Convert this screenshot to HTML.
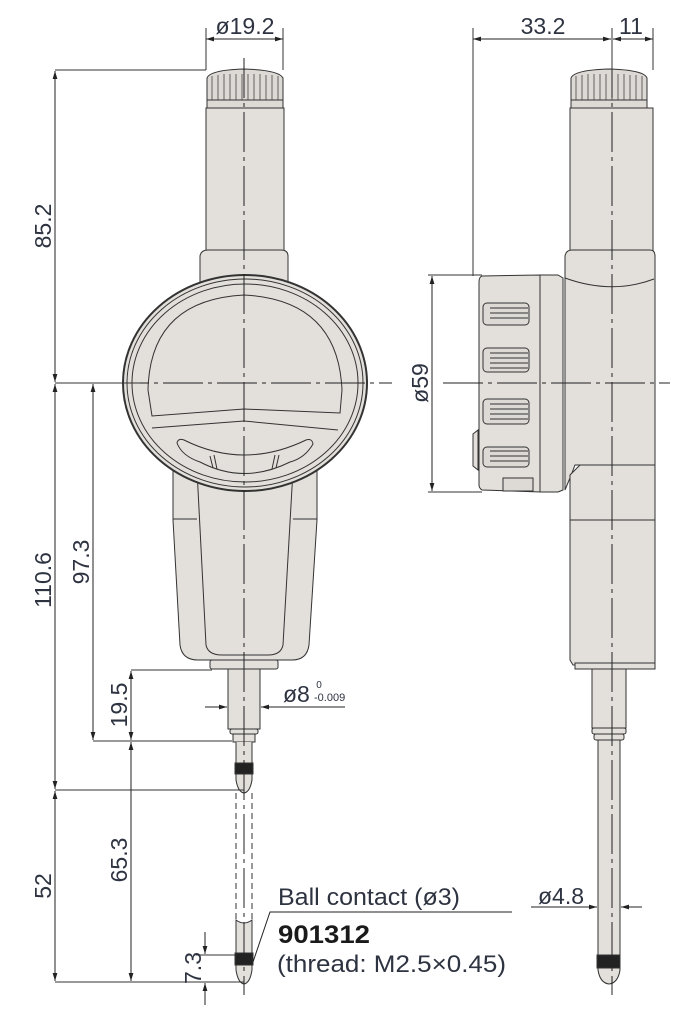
<!DOCTYPE html>
<html><head><meta charset="utf-8"><style>
html,body{margin:0;padding:0;background:#fff}
svg{display:block}
text{font-family:"Liberation Sans",sans-serif;fill:#2d3340}
</style></head><body>
<svg width="689" height="1024" viewBox="0 0 689 1024" xmlns="http://www.w3.org/2000/svg">
<defs>
<marker id="a" viewBox="0 0 10 6" refX="10" refY="3" markerWidth="8" markerHeight="5" orient="auto-start-reverse"><path d="M0,0L10,3L0,6z" fill="#222"/></marker>
</defs>
<g stroke="#333" stroke-width="1" fill="#e3dfdb">
<rect x="206" y="108" width="78" height="145"/>
<path d="M207,108 L207,78 Q210,70 244,69 Q279,70 283,78 L283,108 Z" fill="#ddd9d5"/>
<g stroke="#444" stroke-width="0.8">
<path d="M212,76V100M218,75V100M224,74V100M230,74V100M236,74V100M242,74V100M248,74V100M254,74V100M260,74V100M266,75V100M272,75V100M278,76V100"/>
</g>
<line x1="207" y1="100" x2="283" y2="100"/>
<path d="M200,290 L200,256 Q201,250 208,250 L281,250 Q288,250 288,256 L288,290 Z"/>
<path d="M173,470 L173,520 L180,645 Q182,660 198,660 L292,660 Q307,660 309,645 L317,520 L317,470 Z"/>
<path d="M197,470 L206,645 Q208,655 222,655 L268,655 Q281,655 283,645 L293,470" fill="none"/>
<path d="M173,519 H197 M293,519 H317" fill="none"/>
<ellipse cx="245" cy="383" rx="122" ry="108" stroke-width="2"/>
<ellipse cx="245" cy="383" rx="118" ry="104" fill="none" stroke-width="1"/>
<ellipse cx="245" cy="383" rx="113" ry="99" fill="none"/>
<path d="M148,390 Q150,300 244,295 Q338,300 342,390 L340,413 L244,409 L152,416 Z" fill="none"/>
<path d="M152,428 L244,421 L338,430" fill="none"/>
<path d="M177,443 Q178,438 184,440 Q244,470 306,440 Q312,438 313,444 Q305,458 290,462 Q244,485 200,462 Q182,456 177,443 Z" fill="none"/>
<path d="M210,456 L213,468 M214,455 L217,469 M272,469 L275,455 M276,468 L279,455" fill="none"/>
<rect x="210" y="660" width="68" height="9" rx="2"/>
<rect x="228" y="669" width="32" height="60"/>
<rect x="230" y="729" width="28" height="5" rx="2"/>
<rect x="233" y="734" width="22" height="8"/>
<path d="M236,742 L236,780 Q238,792 244,793 Q250,792 252,780 L252,742" />
<rect x="235" y="763" width="18" height="11" fill="#222"/>
<path d="M236,793 V920 M252,793 V920" fill="none" stroke-dasharray="6,4"/>
<path d="M236,920 L236,970 Q238,983 244,984 Q250,983 252,970 L252,920 Q244,926 236,920 Z"/>
<rect x="235" y="953" width="18" height="12" fill="#222"/>

<rect x="570" y="108" width="83" height="145"/>
<path d="M571,108 L571,78 Q574,70 609,69 Q644,70 647,78 L647,108 Z" fill="#ddd9d5"/>
<g stroke="#444" stroke-width="0.8">
<path d="M576,76V100M582,75V100M588,74V100M594,74V100M600,74V100M606,74V100M612,74V100M618,74V100M624,74V100M630,75V100M636,75V100M642,76V100"/>
</g>
<line x1="571" y1="100" x2="647" y2="100"/>
<path d="M565,490 L565,256 Q566,250 572,250 L650,250 Q655,250 655,256 L655,465 L575,465 L570,478 Z"/>
<path d="M565,278 Q612,295 654,279" fill="none"/>
<path d="M580,465 L570,475 L570,660 L573,665 L655,665 L655,465 Z"/>
<path d="M570,520 H655" fill="none"/>
<rect x="575" y="663" width="80" height="6"/>
<path d="M563,278 L563,490 L558,492 L540,492 L540,275 L558,275 Z"/>
<path d="M482,276 L540,275 L540,492 L482,490 Q479,488 479,485 L479,282 Q479,277 482,276 Z"/>
<g fill="#ddd9d5">
<rect x="483" y="303" width="46" height="22" rx="4"/>
<rect x="483" y="348" width="46" height="24" rx="4"/>
<rect x="483" y="399" width="46" height="25" rx="4"/>
<rect x="483" y="447" width="46" height="20" rx="4"/>
</g>
<g stroke="#333" stroke-width="0.9" fill="none">
<path d="M490,308H528M490,313H528M490,318H528M490,353H528M490,358H528M490,363H528M490,368H528M490,404H528M490,409H528M490,414H528M490,419H528M490,451H528M490,456H528M490,461H528"/>
</g>
<rect x="503" y="478" width="30" height="13" fill="#ddd9d5"/>
<path d="M478,430 L473,434 L473,466 L478,470 Z"/>
<rect x="592" y="669" width="34" height="59"/>
<rect x="592" y="728" width="34" height="6" rx="2"/>
<rect x="594" y="734" width="30" height="6" rx="2"/>
<path d="M598,740 L598,970 Q600,983 609,984 Q618,983 620,970 L620,740 Z"/>
<rect x="597" y="955" width="23" height="13" fill="#222"/>
</g>

<g stroke="#222" stroke-width="1" fill="none" stroke-dasharray="40,5,4,5">
<line x1="244" y1="58" x2="244" y2="995"/>
<line x1="612" y1="58" x2="612" y2="995"/>
<line x1="55" y1="383" x2="392" y2="383"/>
<line x1="443" y1="383" x2="670" y2="383"/>
</g>

<g stroke="#333" stroke-width="1" fill="none">
<path d="M206,28V70 M283,28V70 M473,28V276 M653,28V70 M612,28V70"/>
<path d="M55,70H206 M55,790H244 M55,982H244 M93,741H232 M131,670H212 M428,275H482 M428,492H482 M196,955H236 M196,982H236"/>
<line x1="55" y1="383" x2="140" y2="383"/>
</g>
<g stroke="#222" stroke-width="1" fill="none" marker-start="url(#a)" marker-end="url(#a)">
<line x1="206" y1="39" x2="283" y2="39"/>
<line x1="473" y1="39" x2="611" y2="39"/>
<line x1="613" y1="39" x2="653" y2="39"/>
<line x1="55" y1="71" x2="55" y2="382"/>
<line x1="55" y1="384" x2="55" y2="789"/>
<line x1="55" y1="791" x2="55" y2="981"/>
<line x1="93" y1="384" x2="93" y2="740"/>
<line x1="131" y1="671" x2="131" y2="740"/>
<line x1="131" y1="742" x2="131" y2="981"/>
<line x1="432" y1="276" x2="432" y2="491"/>
</g>
<g stroke="#222" stroke-width="1" fill="none">
<line x1="205" y1="707" x2="227" y2="707" marker-end="url(#a)"/>
<line x1="345" y1="707" x2="261" y2="707" marker-end="url(#a)"/>
<line x1="205" y1="932" x2="205" y2="954" marker-end="url(#a)"/>
<line x1="205" y1="1005" x2="205" y2="983" marker-end="url(#a)"/>
<line x1="531" y1="907" x2="597" y2="907" marker-end="url(#a)"/>
<line x1="642" y1="907" x2="621" y2="907" marker-end="url(#a)"/>
<path d="M253,962 L270,912 L512,912"/>
</g>

<g font-size="23">
<text x="245" y="34" text-anchor="middle" textLength="59" lengthAdjust="spacingAndGlyphs">ø19.2</text>
<text x="543" y="34" text-anchor="middle">33.2</text>
<text x="631" y="34" text-anchor="middle">11</text>
<text transform="translate(51,226) rotate(-90)" text-anchor="middle">85.2</text>
<text transform="translate(51,580) rotate(-90)" text-anchor="middle">110.6</text>
<text transform="translate(51,886) rotate(-90)" text-anchor="middle">52</text>
<text transform="translate(89,562) rotate(-90)" text-anchor="middle">97.3</text>
<text transform="translate(127,705) rotate(-90)" text-anchor="middle">19.5</text>
<text transform="translate(127,860) rotate(-90)" text-anchor="middle">65.3</text>
<text transform="translate(201,968) rotate(-90)" text-anchor="middle">7.3</text>
<text transform="translate(428,383) rotate(-90)" text-anchor="middle">ø59</text>
<text x="283" y="702">ø8</text>
<text x="538" y="904">ø4.8</text>
<text x="278" y="905" font-size="24" textLength="182" lengthAdjust="spacingAndGlyphs">Ball contact (ø3)</text>
<text x="278" y="943" font-size="25" font-weight="bold" style="fill:#1a1a1a" textLength="92" lengthAdjust="spacingAndGlyphs">901312</text>
<text x="277" y="972" font-size="24" textLength="229" lengthAdjust="spacingAndGlyphs">(thread: M2.5×0.45)</text>
</g>
<text x="319" y="688" font-size="10" text-anchor="middle">0</text>
<text x="314" y="701" font-size="11">-0.009</text>
</svg>
</body></html>
